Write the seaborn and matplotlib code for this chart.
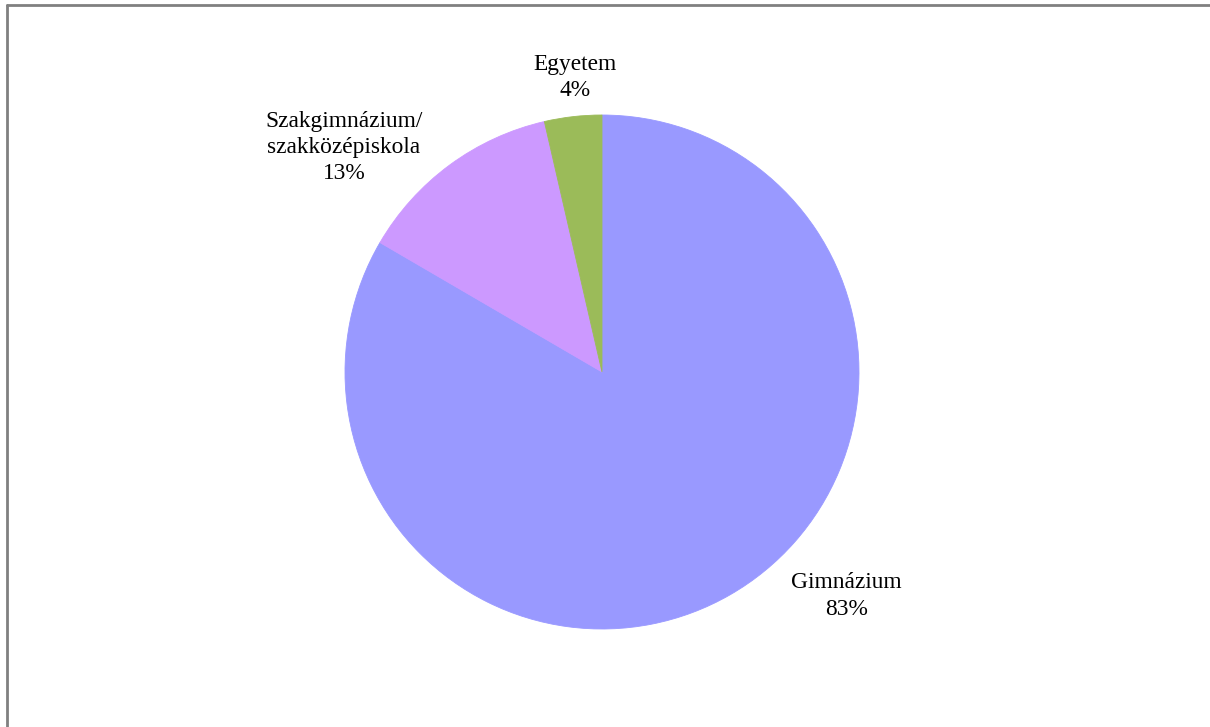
import matplotlib
matplotlib.use("Agg")
import matplotlib.pyplot as plt
from matplotlib.lines import Line2D
import numpy as np
import seaborn as sns

categories = ["Gimnázium", "Szakgimnázium/\nszakközépiskola", "Egyetem"]
shares = [83.4, 13.0, 3.6]
colors = ["#9999FF", "#CC99FF", "#9BBB59"]

# label offsets (radius, angle in degrees) relative to the pie centre
label_pos = [(1.29, -42.5), (1.33, 139.0), (1.15, 95.2)]

sns.set_theme(style="white")
plt.rcParams["font.family"] = ["Liberation Serif", "DejaVu Serif"]

fig = plt.figure(figsize=(12.1, 7.27), dpi=100)
fig.patch.set_facecolor("white")

# pie axes: centre ~(602, 372) px, radius ~257 px
r_px, cx, cy = 257, 602, 372
W, H = 1210, 727
ax = fig.add_axes([(cx - r_px) / W, 1 - (cy + r_px) / H, 2 * r_px / W, 2 * r_px / H])

wedges, _ = ax.pie(shares, colors=colors, startangle=90, counterclock=False,
                   radius=1.0, wedgeprops=dict(linewidth=0.6))
for w, c in zip(wedges, colors):
    w.set_edgecolor(c)
ax.set_xlim(-1, 1)
ax.set_ylim(-1, 1)
ax.set_aspect("equal")
ax.axis("off")

for name, val, (rr, ang) in zip(categories, shares, label_pos):
    a = np.deg2rad(ang)
    ax.text(rr * np.cos(a), rr * np.sin(a), f"{name}\n{round(val)}%", ha="center", va="center",
            fontsize=16.8, color="black", linespacing=1.32, clip_on=False)

# grey frame (only top and left edges are visible in the reference)
fig.add_artist(Line2D([7 / W, 7 / W], [0, 1 - 5 / H], transform=fig.transFigure,
                      color="#808080", linewidth=2.0))
fig.add_artist(Line2D([7 / W, 1], [1 - 5 / H, 1 - 5 / H], transform=fig.transFigure,
                      color="#808080", linewidth=2.0))

fig.savefig("out.png", dpi=100)
